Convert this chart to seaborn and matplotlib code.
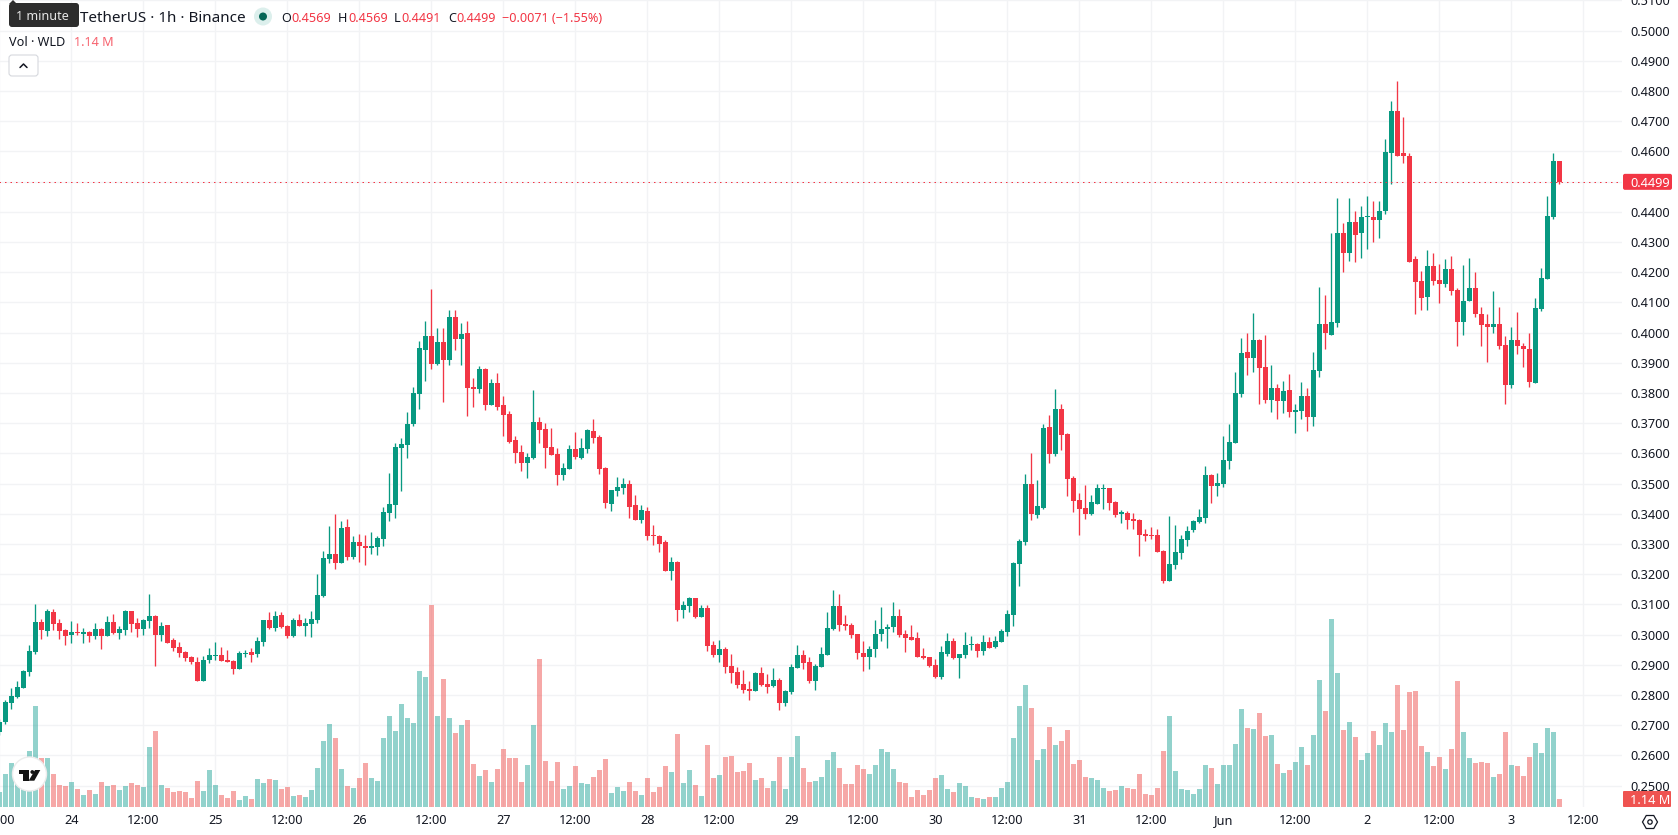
import matplotlib
matplotlib.use("Agg")
import matplotlib.pyplot as plt
from matplotlib.patches import Circle, FancyBboxPatch, Polygon, RegularPolygon
from matplotlib.transforms import Affine2D
import numpy as np
import pandas as pd
import seaborn as sns

# Hourly WLD/USDT candles, in units of 0.0001 USDT. Hour 0 is 24 May 00:00.
first_hour = -12
opens = [
    2678, 2710, 2773, 2793, 2823, 2876, 2942, 3042, 3012, 3075,
    3038, 3015, 2998, 3008, 3002, 3008, 2995, 3018, 2995, 3042,
    3005, 3015, 3078, 3038, 3018, 3045, 3061, 2998, 3032, 2982,
    2959, 2942, 2926, 2909, 2846, 2916, 2929, 2932, 2916, 2912,
    2886, 2936, 2942, 2936, 2975, 3048, 3022, 3065, 3028, 2995,
    3048, 3028, 3035, 3048, 3128, 3251, 3268, 3237, 3357, 3258,
    3308, 3294, 3288, 3291, 3318, 3404, 3430, 3619, 3629, 3698,
    3798, 3943, 3990, 3897, 3970, 3910, 4053, 3980, 4000, 3821,
    3814, 3880, 3761, 3834, 3761, 3731, 3645, 3606, 3569, 3586,
    3705, 3682, 3622, 3599, 3530, 3549, 3616, 3586, 3616, 3675,
    3655, 3552, 3433, 3476, 3486, 3499, 3430, 3380, 3410, 3330,
    3327, 3307, 3211, 3241, 3082, 3095, 3122, 3059, 3089, 2966,
    2933, 2953, 2897, 2877, 2837, 2820, 2814, 2873, 2837, 2830,
    2850, 2774, 2810, 2890, 2933, 2910, 2847, 2893, 2933, 3019,
    3095, 3036, 3032, 3003, 2940, 2926, 2953, 3003, 3020, 3026,
    3063, 3003, 2993, 2990, 2930, 2927, 2901, 2861, 2937, 2980,
    2924, 2934, 2967, 2970, 2947, 2977, 2960, 2977, 3010, 3066,
    3235, 3308, 3500, 3397, 3420, 3689, 3599, 3748, 3665, 3520,
    3447, 3420, 3401, 3434, 3483, 3487, 3440, 3401, 3404, 3384,
    3381, 3334, 3331, 3331, 3278, 3179, 3232, 3271, 3314, 3347,
    3373, 3387, 3529, 3493, 3499, 3575, 3636, 3798, 3937, 3917,
    3977, 3887, 3778, 3818, 3775, 3811, 3738, 3742, 3791, 3722,
    3874, 4030, 3993, 4033, 4328, 4265, 4367, 4328, 4381, 4384,
    4374, 4401, 4596, 4735, 4593, 4586, 4242, 4172, 4119, 4222,
    4175, 4162, 4212, 4142, 4036, 4103, 4146, 4063, 4030, 4020,
    4030, 3960, 3825, 3977, 3957, 3947, 3834, 4079, 4179, 4384,
    4569,
]
highs = [
    2722, 2783, 2823, 2846, 2883, 2965, 3101, 3051, 3085, 3085,
    3051, 3018, 3045, 3038, 3022, 3012, 3038, 3022, 3061, 3068,
    3028, 3081, 3078, 3055, 3051, 3134, 3065, 3042, 3032, 2989,
    2975, 2945, 2929, 2926, 2929, 2955, 2975, 2959, 2949, 2916,
    2945, 2949, 2955, 2992, 3048, 3075, 3078, 3075, 3032, 3055,
    3068, 3054, 3078, 3201, 3277, 3361, 3400, 3377, 3384, 3328,
    3334, 3331, 3341, 3328, 3424, 3536, 3635, 3652, 3738, 3821,
    3973, 4039, 4145, 4016, 4016, 4076, 4076, 4033, 4039, 3851,
    3890, 3884, 3847, 3867, 3791, 3741, 3659, 3629, 3602, 3811,
    3721, 3702, 3685, 3619, 3569, 3629, 3672, 3652, 3682, 3714,
    3661, 3555, 3479, 3522, 3519, 3512, 3463, 3430, 3423, 3363,
    3330, 3314, 3257, 3244, 3112, 3125, 3122, 3099, 3099, 2979,
    2983, 2960, 2936, 2893, 2883, 2847, 2877, 2893, 2870, 2890,
    2857, 2817, 2903, 2966, 2950, 2926, 2903, 2960, 3075, 3148,
    3135, 3065, 3039, 3003, 2979, 2963, 3049, 3093, 3036, 3109,
    3086, 3016, 3033, 3010, 2957, 2927, 2920, 2964, 3007, 2990,
    2937, 3010, 2997, 2973, 2999, 2993, 2997, 3020, 3083, 3242,
    3318, 3533, 3602, 3513, 3698, 3728, 3814, 3765, 3669, 3526,
    3470, 3497, 3463, 3500, 3500, 3487, 3444, 3414, 3410, 3404,
    3384, 3351, 3357, 3351, 3281, 3394, 3364, 3331, 3361, 3380,
    3416, 3559, 3532, 3536, 3658, 3698, 3871, 3983, 4000, 4066,
    3980, 3993, 3894, 3831, 3841, 3864, 3765, 3838, 3818, 3937,
    4152, 4126, 4331, 4447, 4364, 4447, 4404, 4420, 4453, 4437,
    4434, 4642, 4768, 4834, 4712, 4596, 4252, 4205, 4275, 4265,
    4228, 4242, 4252, 4146, 4225, 4248, 4202, 4086, 4063, 4139,
    4086, 3990, 4020, 4069, 3964, 4000, 4116, 4215, 4453, 4593,
    4569,
]
lows = [
    2668, 2704, 2754, 2790, 2823, 2863, 2936, 2985, 2995, 3015,
    2985, 2965, 2972, 2998, 2972, 2975, 2985, 2952, 2995, 3002,
    2985, 2998, 3008, 2992, 2998, 3022, 2896, 2979, 2972, 2945,
    2926, 2912, 2902, 2846, 2846, 2906, 2916, 2912, 2909, 2869,
    2886, 2926, 2909, 2926, 2962, 3018, 3012, 3022, 2989, 2992,
    3028, 2997, 2993, 3040, 3125, 3237, 3217, 3237, 3247, 3251,
    3240, 3230, 3268, 3265, 3294, 3377, 3387, 3477, 3586, 3692,
    3748, 3841, 3880, 3894, 3771, 3894, 3943, 3894, 3725, 3755,
    3801, 3745, 3761, 3745, 3659, 3635, 3569, 3543, 3520, 3582,
    3635, 3553, 3596, 3496, 3513, 3549, 3582, 3582, 3602, 3635,
    3532, 3420, 3410, 3459, 3466, 3387, 3380, 3370, 3314, 3297,
    3274, 3211, 3181, 3046, 3056, 3075, 3056, 3059, 2946, 2926,
    2910, 2873, 2840, 2824, 2807, 2784, 2814, 2830, 2807, 2827,
    2751, 2764, 2804, 2890, 2887, 2840, 2817, 2893, 2933, 3016,
    3013, 3016, 2989, 2920, 2880, 2887, 2926, 2980, 2957, 3010,
    2993, 2944, 2983, 2927, 2920, 2894, 2858, 2854, 2930, 2920,
    2858, 2924, 2950, 2927, 2934, 2957, 2957, 2977, 2997, 3030,
    3162, 3298, 3381, 3387, 3417, 3569, 3593, 3612, 3460, 3407,
    3331, 3384, 3397, 3434, 3417, 3414, 3391, 3371, 3351, 3351,
    3261, 3311, 3318, 3275, 3172, 3179, 3218, 3252, 3295, 3340,
    3370, 3370, 3436, 3459, 3489, 3549, 3636, 3788, 3861, 3871,
    3762, 3768, 3738, 3715, 3735, 3722, 3669, 3715, 3675, 3692,
    3854, 3947, 3993, 4017, 4202, 4238, 4235, 4248, 4278, 4301,
    4314, 4394, 4493, 4583, 4563, 4235, 4063, 4076, 4076, 4159,
    4099, 4152, 4126, 3954, 3993, 4103, 4053, 3957, 3904, 4000,
    3947, 3765, 3815, 3930, 3887, 3821, 3834, 4073, 4179, 4377,
    4491,
]
closes = [
    2712, 2777, 2797, 2826, 2879, 2945, 3042, 3015, 3078, 3035,
    3012, 2995, 3008, 3005, 3008, 2995, 3018, 2995, 3042, 3005,
    3018, 3078, 3035, 3018, 3048, 3061, 2998, 3028, 2972, 2955,
    2939, 2922, 2909, 2846, 2916, 2932, 2932, 2912, 2909, 2886,
    2939, 2939, 2932, 2979, 3048, 3022, 3061, 3025, 2995, 3048,
    3028, 3038, 3051, 3131, 3254, 3268, 3237, 3354, 3258, 3308,
    3294, 3288, 3294, 3321, 3407, 3434, 3622, 3632, 3698, 3801,
    3950, 3990, 3897, 3970, 3910, 4053, 3980, 3996, 3818, 3814,
    3880, 3761, 3834, 3755, 3728, 3639, 3602, 3569, 3589, 3705,
    3678, 3619, 3596, 3530, 3553, 3616, 3589, 3619, 3678, 3651,
    3549, 3436, 3479, 3489, 3499, 3423, 3380, 3413, 3327, 3327,
    3301, 3211, 3241, 3082, 3099, 3122, 3059, 3089, 2963, 2933,
    2953, 2893, 2873, 2834, 2817, 2814, 2873, 2834, 2827, 2850,
    2774, 2814, 2893, 2933, 2907, 2847, 2897, 2936, 3022, 3095,
    3032, 3029, 2999, 2940, 2926, 2953, 3003, 3020, 3026, 3063,
    2999, 2990, 2983, 2927, 2924, 2897, 2861, 2944, 2980, 2924,
    2937, 2967, 2970, 2947, 2977, 2957, 2980, 3013, 3070, 3238,
    3311, 3500, 3401, 3427, 3685, 3599, 3748, 3662, 3516, 3444,
    3417, 3401, 3440, 3487, 3487, 3437, 3397, 3404, 3381, 3377,
    3331, 3328, 3328, 3275, 3179, 3235, 3275, 3318, 3344, 3377,
    3390, 3529, 3493, 3502, 3579, 3638, 3801, 3934, 3917, 3977,
    3884, 3778, 3818, 3772, 3808, 3738, 3745, 3791, 3722, 3877,
    4030, 3997, 4036, 4328, 4265, 4367, 4324, 4381, 4384, 4374,
    4404, 4599, 4735, 4586, 4583, 4235, 4169, 4116, 4222, 4172,
    4162, 4212, 4139, 4036, 4106, 4146, 4060, 4026, 4017, 4030,
    3957, 3828, 3977, 3957, 3944, 3838, 4083, 4182, 4387, 4569,
    4499,
]
# Traded volume per hour, in millions of WLD.
volumes_m = [
    2.14, 4.71, 6.29, 5.29, 5.86, 8.00, 14.43, 7.00, 7.00, 4.71,
    3.14, 3.00, 3.57, 2.57, 1.71, 2.43, 1.86, 3.57, 3.00, 3.14,
    2.43, 3.00, 3.43, 3.14, 2.86, 8.57, 10.86, 3.14, 2.71, 2.14,
    2.29, 2.14, 1.29, 3.71, 2.29, 5.29, 3.14, 1.71, 1.29, 2.29,
    1.00, 1.57, 1.14, 4.00, 3.43, 4.00, 3.86, 2.57, 2.86, 1.57,
    1.71, 1.43, 2.43, 5.57, 9.43, 11.86, 9.86, 5.43, 3.00, 2.71,
    4.14, 6.29, 4.14, 3.71, 9.86, 13.00, 10.86, 14.71, 12.71, 12.00,
    19.43, 18.57, 28.86, 13.00, 18.29, 12.71, 10.57, 11.71, 12.43, 6.14,
    4.43, 5.29, 3.57, 5.43, 8.29, 7.00, 7.00, 3.57, 6.00, 11.71,
    21.14, 6.57, 3.71, 6.43, 2.57, 3.00, 5.86, 3.43, 3.29, 4.29,
    5.29, 6.86, 2.00, 2.86, 2.29, 3.57, 2.29, 1.71, 4.14, 2.14,
    2.86, 5.86, 5.00, 10.43, 3.43, 5.29, 3.14, 1.57, 8.86, 4.14,
    4.57, 7.14, 7.29, 5.00, 5.14, 6.29, 3.86, 4.14, 2.71, 3.71,
    7.14, 2.57, 7.14, 10.14, 5.57, 3.57, 3.71, 4.29, 6.71, 7.86,
    5.57, 3.29, 3.29, 6.00, 5.43, 4.71, 6.00, 8.29, 7.86, 5.43,
    3.57, 3.43, 1.43, 2.43, 1.71, 2.43, 4.14, 4.57, 2.57, 2.14,
    3.43, 3.00, 1.43, 1.29, 1.14, 1.43, 1.43, 2.71, 3.57, 9.86,
    14.43, 17.43, 14.14, 6.71, 8.29, 11.43, 8.86, 9.43, 11.00, 6.14,
    6.71, 4.29, 4.14, 3.86, 2.71, 2.29, 2.43, 3.00, 2.71, 2.57,
    4.71, 1.86, 1.71, 2.71, 8.00, 13.00, 5.14, 2.57, 2.43, 1.86,
    2.57, 6.00, 5.57, 3.29, 6.00, 6.00, 9.00, 14.00, 11.29, 11.14,
    13.43, 10.14, 10.29, 6.14, 4.86, 5.29, 6.43, 8.57, 6.00, 10.29,
    18.14, 13.71, 26.86, 19.14, 11.00, 12.14, 10.00, 6.71, 7.71, 10.86,
    8.86, 12.00, 10.71, 17.43, 11.00, 16.43, 16.57, 8.71, 7.86, 5.86,
    7.14, 5.43, 8.29, 18.00, 10.71, 7.00, 6.29, 6.43, 6.29, 4.29,
    4.71, 10.71, 6.00, 5.86, 4.43, 7.14, 9.14, 7.71, 11.29, 10.71,
    1.14,
]
price_ticks = [0.25, 0.26, 0.27, 0.28, 0.29, 0.30, 0.31, 0.32, 0.33, 0.34, 0.35, 0.36, 0.37, 0.38,
               0.39, 0.40, 0.41, 0.42, 0.43, 0.44, 0.45, 0.46, 0.47, 0.48, 0.49, 0.50, 0.51]
time_ticks = [-12, 0, 12, 24, 36, 48, 60, 72, 84, 96, 108, 120, 132, 144,
              156, 168, 180, 192, 204, 216, 228, 240, 252]
time_labels = ["12:00", "24", "12:00", "25", "12:00", "26", "12:00", "27", "12:00", "28", "12:00", "29",
               "12:00", "30", "12:00", "31", "12:00", "Jun", "12:00", "2", "12:00", "3", "12:00"]

UP = "#089981"
DOWN = "#F23645"
VOL_UP = "#26A69A"
VOL_DOWN = "#EF5350"
INK = "#131722"
GRID = "#F2F3F5"

sns.set_theme(style="white")
plt.rcParams["font.family"] = ["Noto Sans", "DejaVu Sans"]

frame = pd.DataFrame({"open": opens, "high": highs, "low": lows, "close": closes, "volume": volumes_m})
frame[["open", "high", "low", "close"]] /= 10000
frame["hour"] = first_hour + np.arange(len(frame))
frame["direction"] = np.where(frame["close"] >= frame["open"], "up", "down")

W, H = 1678, 835
fig = plt.figure(figsize=(W / 100, H / 100), dpi=100, facecolor="white")
pane_left, pane_right, pane_bottom = -6, 1622, 807
rect = [pane_left / W, (H - pane_bottom) / H, (pane_right - pane_left) / W, pane_bottom / H]
ax = fig.add_axes(rect, zorder=1)
vol_ax = fig.add_axes(rect, zorder=2, facecolor="none")

hour_range = ((pane_left - 71.4) / 6, (pane_right - 71.4) / 6)
price_range = (0.5 - 776.5 / 3020.8, 0.5 + 30.5 / 3020.8)

# Price pane: grid, candle wicks and bodies
ax.set_xlim(hour_range)
ax.set_ylim(price_range)
ax.set_axisbelow(True)
ax.grid(True, color=GRID, linewidth=1.0)
for is_up, colour in ((True, UP), (False, DOWN)):
    part = frame[(frame["direction"] == "up") == is_up]
    ax.vlines(part["hour"], part["low"], part["high"], color=colour, linewidth=0.95, zorder=3)
    body_low = part[["open", "close"]].min(axis=1)
    body_high = part[["open", "close"]].max(axis=1)
    ax.bar(part["hour"], (body_high - body_low).clip(lower=0.00035), bottom=body_low,
           width=0.85, color=colour, linewidth=0, zorder=4)

# Last-price marker line
last_close = frame["close"].iloc[-1]
ax.axhline(last_close, color=DOWN, linewidth=0.72, linestyle=(0, (1.5, 4.0)), zorder=5)

ax.yaxis.tick_right()
ax.set_yticks(price_ticks)
ax.set_yticklabels(["" if t == 0.45 else f"{t:.4f}" for t in price_ticks])
ax.set_xticks(time_ticks)
ax.set_xticklabels(time_labels)
ax.tick_params(axis="y", length=0, pad=6.3, labelsize=9.2, labelcolor=INK)
ax.tick_params(axis="x", length=0, pad=5.4, labelsize=9.2, labelcolor=INK)
for label in ax.get_xticklabels():
    if label.get_text() == "Jun":
        label.set_fontweight("bold")
sns.despine(ax=ax, left=True, right=True, top=True, bottom=True)

# Volume pane, sharing the time axis
sns.barplot(data=frame, x="hour", y="volume", hue="direction", hue_order=["up", "down"],
            palette={"up": VOL_UP, "down": VOL_DOWN}, native_scale=True, dodge=False, width=0.83,
            saturation=1, alpha=0.5, linewidth=0, errorbar=None, legend=False, ax=vol_ax)
vol_ax.set_xlim(hour_range)
vol_ax.set_ylim(0, pane_bottom / 7.0)
vol_ax.set_axis_off()

# Overlay elements placed in pixel coordinates, y measured from the top edge
px = Affine2D().scale(1, -1).translate(0, H)


def put_text(x, y, text, colour=INK, size=9.1, **kwargs):
    fig.text(x, y, text, color=colour, fontsize=size, va="center_baseline", transform=px, zorder=20, **kwargs)


def put_box(x0, y0, x1, y1, face, edge="none", round_px=2.0, zorder=15):
    fig.add_artist(FancyBboxPatch((x0 + round_px, y0 + round_px), x1 - x0 - 2 * round_px, y1 - y0 - 2 * round_px,
                                  boxstyle=f"round,pad={round_px},rounding_size={round_px}",
                                  facecolor=face, edgecolor=edge, linewidth=0.8, transform=px, zorder=zorder))


# Legend rows
put_text(80, 16.5, "TetherUS · 1h · Binance", size=10.95)
fig.add_artist(Circle((263, 16.5), 9, facecolor="#DCEFEC", edgecolor="none", transform=px, zorder=15))
fig.add_artist(Circle((263, 16.5), 4, facecolor="#056656", edgecolor="none", transform=px, zorder=16))
for x, letter, x_value, value in ((281, "O", 291, "0.4569"), (338, "H", 348, "0.4569"),
                                  (394, "L", 401, "0.4491"), (448, "C", 456, "0.4499")):
    put_text(x, 16.5, letter)
    put_text(x_value, 16.5, value, colour=DOWN)
put_text(502, 16.5, "−0.0071 (−1.55%)", colour=DOWN)
put_text(9, 40.5, "Vol · WLD", size=9.1)
put_text(74, 40.5, "1.14 M", colour="#F7626E", size=9.1)

# Tooltip above the symbol name, with its small pointer
put_box(9, 3, 79, 27, "#2D2D2D", round_px=3)
fig.add_artist(Polygon([(9, 4), (13, 0), (17, 4)], closed=True, facecolor="#2D2D2D", edgecolor="none",
                       transform=px, zorder=15))
put_text(16.5, 15.5, "1 minute", colour="#E6E6E6", size=9.1)

# Collapse-legend button
put_box(9, 55, 38, 76, "white", edge="#D6D8DE", round_px=3)
fig.add_artist(plt.Line2D([20, 23.5, 27], [67.5, 64, 67.5], color=INK, linewidth=1.1, transform=px, zorder=16))

# Last-price and volume tags on the price scale
last_y = H - ax.transData.transform((0, last_close))[1]
put_box(1623, last_y - 8, 1672, last_y + 8, DOWN, round_px=2)
put_text(1630.5, last_y, "0.4499", colour="white", size=9.2)
put_box(1623, 791, 1671, 807, VOL_DOWN, round_px=1)
put_text(1630.5, 799, "1.14 M", colour="white", size=9.2)

# Settings glyph in the corner: a hexagon with points to the left and right
fig.add_artist(RegularPolygon((1650, 822), 6, radius=7.5, orientation=np.pi / 6, facecolor="white", edgecolor=INK,
                              linewidth=0.9, transform=px, zorder=15))
fig.add_artist(Circle((1650, 822), 2.2, facecolor="white", edgecolor=INK, linewidth=0.9, transform=px, zorder=16))

# Brand badge in the corner of the pane
fig.add_artist(Circle((29.5, 774), 17, facecolor="white", edgecolor="#ECECEC", linewidth=1.0, transform=px, zorder=15))
fig.add_artist(Polygon([(19, 770), (29.3, 770), (29.3, 780.7), (23.3, 780.7), (23.3, 774), (19, 774)],
                       closed=True, facecolor="#131313", edgecolor="none", transform=px, zorder=16))
fig.add_artist(Circle((32.3, 772), 1.9, facecolor="#131313", edgecolor="none", transform=px, zorder=16))
fig.add_artist(Polygon([(35, 770), (40.3, 770), (34.3, 780.7), (28.7, 780.7)], closed=True,
                       facecolor="#131313", edgecolor="none", transform=px, zorder=16))

fig.savefig("out.png", dpi=100, facecolor="white")
